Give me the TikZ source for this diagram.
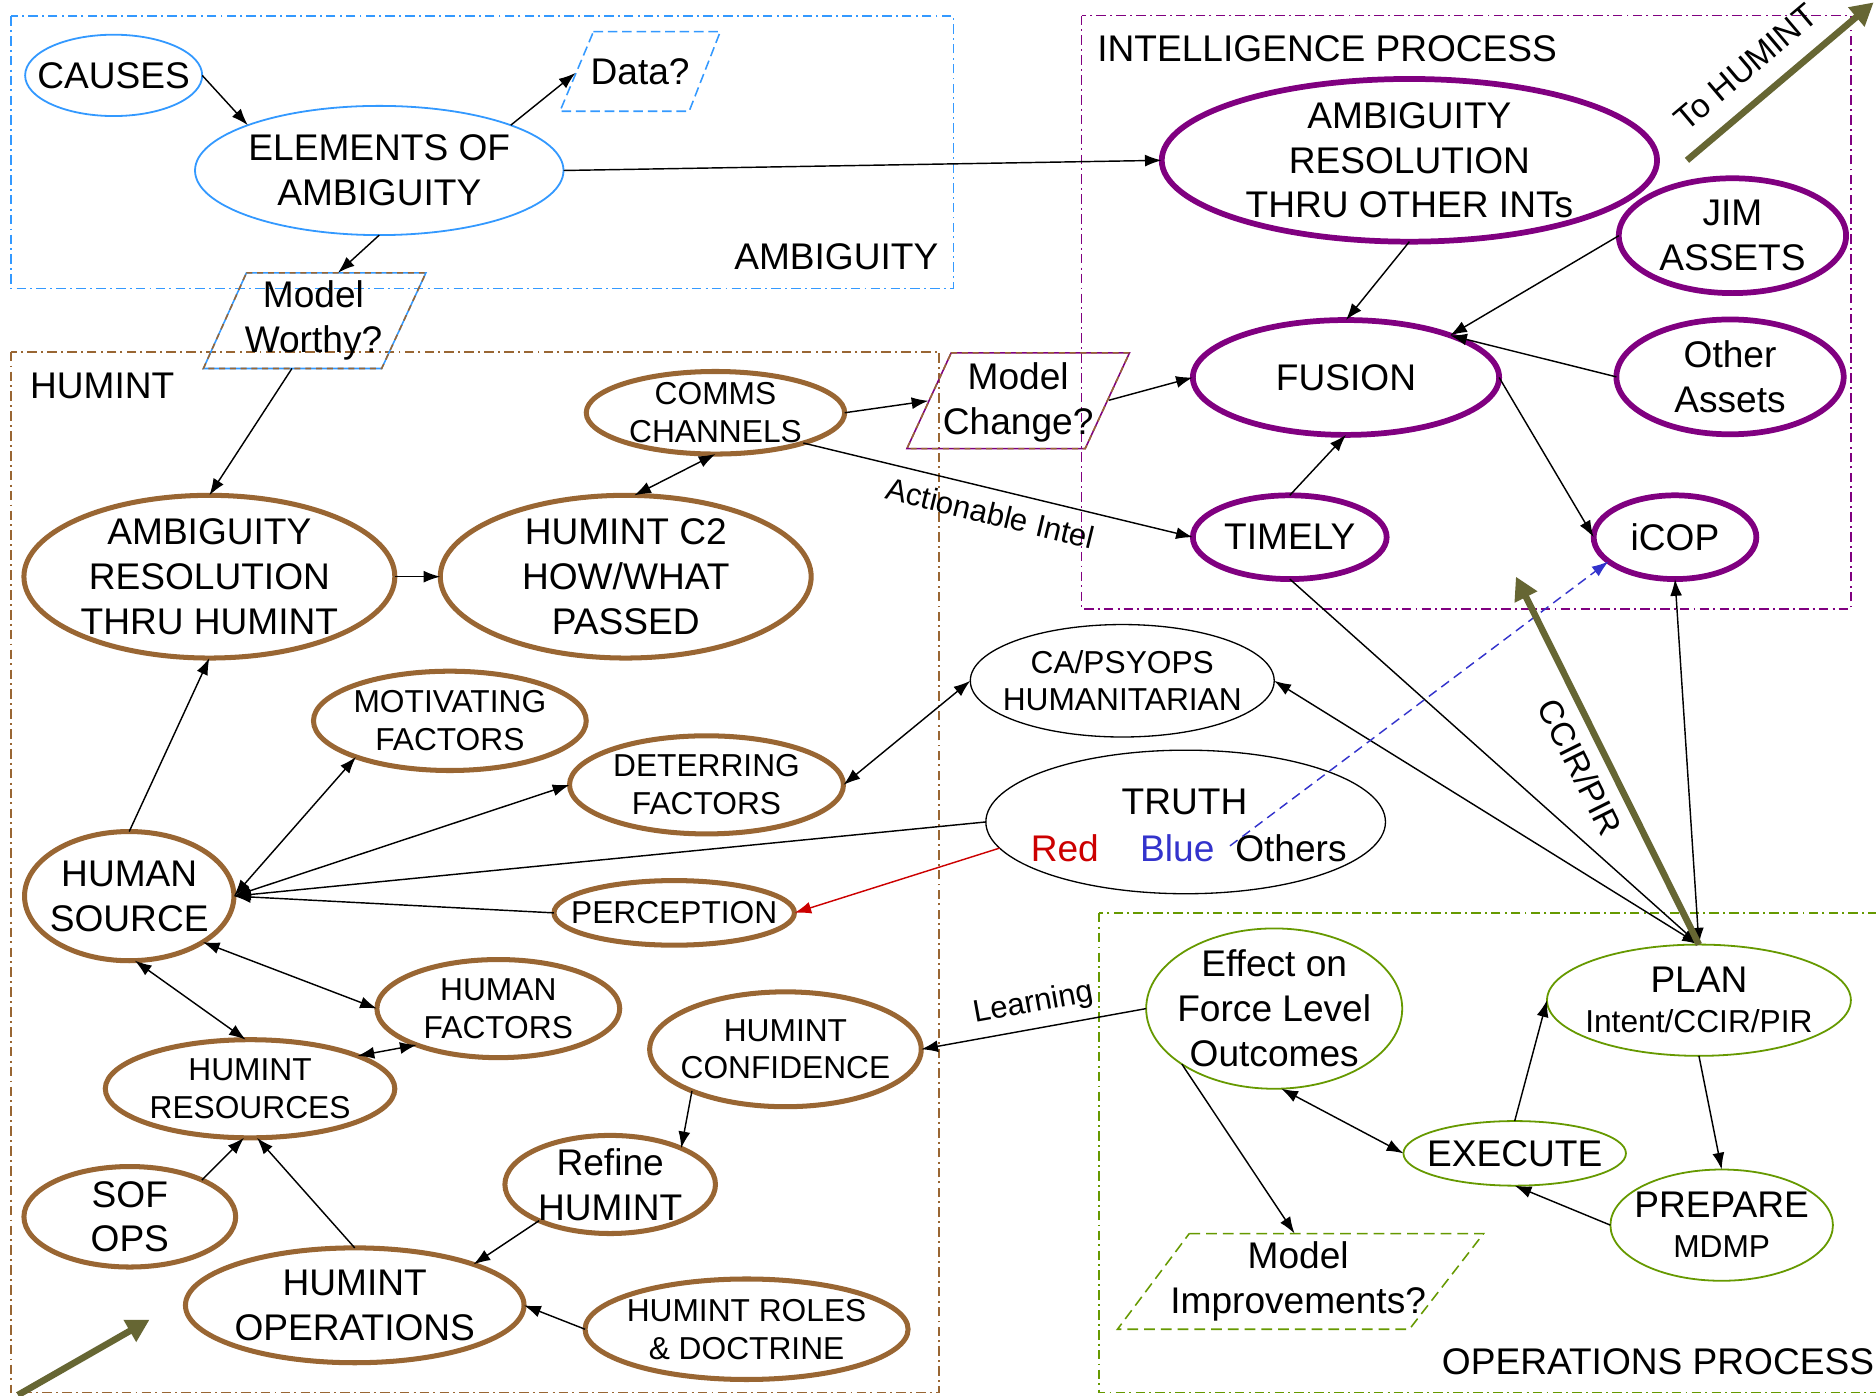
\documentclass[tikz,border=0pt]{standalone}
\usepackage{fontspec}
\setmainfont{Liberation Sans}
\usetikzlibrary{shapes.geometric,arrows.meta}

\definecolor{ambblue}{HTML}{3399FF}
\definecolor{humbrown}{HTML}{996633}
\definecolor{intpurple}{HTML}{800080}
\definecolor{opsgreen}{HTML}{669900}
\definecolor{olivearrow}{HTML}{666633}
\definecolor{truthred}{HTML}{CC0000}
\definecolor{truthblue}{HTML}{3333CC}

\newcommand\bigfont{\fontsize{31}{37.5}\selectfont}
\newcommand\smallfont{\fontsize{26.5}{31.5}\selectfont}
\newcommand\lblfont{\fontsize{26}{31}\selectfont}
\newcommand\arrfont{\fontsize{28}{33}\selectfont}

% oval outline plus its centred caption
% #1 outline style, #2 name, #3 centre, #4 width, #5 height, #6 text style, #7 text
\newcommand\ovalnode[7]{%
  \node[#1, minimum width=#4, minimum height=#5] (#2) at (#3) {};
  \node[#6] (#2-t) at (#2) {#7};}

\tikzset{
  oval/.style={ellipse, inner sep=0pt, outer sep=0pt},
  hum/.style={oval, draw=humbrown, line width=4.2pt},
  intel/.style={oval, draw=intpurple, line width=4.8pt},
  opsov/.style={oval, draw=opsgreen, line width=1.5pt},
  ambov/.style={oval, draw=ambblue, line width=1.5pt},
  plainov/.style={oval, draw=black, line width=1.1pt},
  btxt/.style={inner sep=0pt, align=center, font=\bigfont},
  stxt/.style={inner sep=0pt, align=center, font=\smallfont},
  lbl/.style={inner sep=0pt, font=\lblfont},
  tip/.tip={Latex[length=14pt,width=10pt]},
  conn/.style={line width=1.2pt, -tip},
  rconn/.style={line width=1.2pt, tip-},
  bi/.style={line width=1.2pt, tip-tip},
  frame/.style={line width=1.3pt, dash pattern=on 8pt off 3.5pt on 1.6pt off 3.5pt},
  bigarrow/.style={line width=5.5pt, draw=olivearrow,
    -{Triangle[length=19pt,width=20pt]}},
  rbigarrow/.style={line width=5.5pt, draw=olivearrow,
    {Triangle[length=19pt,width=20pt]}-},
}

\begin{document}
\begin{tikzpicture}[x=1pt, y=-1pt]
\path[use as bounding box, fill=white] (0,0) rectangle (1568,1166);

% ---------- process frames ----------
\draw[frame, ambblue]   (9,13.5) rectangle (797,241);
\draw[frame, humbrown]  (9,294) rectangle (785,1164);
\draw[frame, intpurple] (904,13) rectangle (1547,509);
\draw[frame, opsgreen]  (918.5,763) rectangle (1590,1164);

\node[btxt] (amb-lbl) at (699,215) {AMBIGUITY};
\node[btxt, anchor=west] (int-lbl) at (917,41) {INTELLIGENCE PROCESS};
\node[btxt, anchor=west] (hum-lbl) at (25,322.5) {HUMINT};
\node[btxt, anchor=west] (ops-lbl) at (1205,1138) {OPERATIONS PROCESS};

% ---------- decision parallelograms ----------
\draw[ambblue, line width=1.3pt, dash pattern=on 8pt off 4pt]
  (496,26.5) -- (602,26.5) -- (576,93) -- (468,93) -- cycle;
\node[btxt] (data) at (535,60) {Data?};
\coordinate (data-in) at (481,61);

\draw[ambblue, line width=1.3pt]
  (206,228) -- (356,228) -- (319,308) -- (170,308) -- cycle;
\draw[humbrown, line width=1.3pt, dash pattern=on 5pt off 4pt]
  (206,228) -- (356,228) -- (319,308) -- (170,308) -- cycle;
\node[btxt] (mw) at (262,268) {Model\\Worthy?};
\coordinate (mw-in) at (282.5,228);
\coordinate (mw-out) at (244,308);

\draw[intpurple, line width=1.3pt]
  (795,295) -- (944,295) -- (907,375) -- (758,375) -- cycle;
\draw[humbrown, line width=1.3pt, dash pattern=on 5pt off 4pt]
  (795,295) -- (944,295) -- (907,375) -- (758,375) -- cycle;
\node[btxt] (mc) at (851,336) {Model\\Change?};
\coordinate (mc-in) at (776,335);
\coordinate (mc-out) at (927,334.5);

\draw[opsgreen, line width=1.3pt, dash pattern=on 9pt off 5pt]
  (994,1031) -- (1240,1031) -- (1178,1111) -- (934,1111) -- cycle;
\node[btxt] (mi) at (1085,1071) {Model\\Improvements?};
\coordinate (mi-in) at (1082,1031);

% ---------- ambiguity ----------
\ovalnode{ambov}{causes}{95,63}{148pt}{68pt}{btxt}{CAUSES}
\ovalnode{ambov}{elem}{317,142.5}{308pt}{108pt}{btxt}{ELEMENTS OF\\AMBIGUITY}

% ---------- intelligence process ----------
\ovalnode{intel}{arint}{1178,134}{414pt}{136pt}{btxt}{AMBIGUITY\\RESOLUTION\\THRU OTHER INTs}
\ovalnode{intel}{jim}{1448,197}{190pt}{96pt}{btxt}{JIM\\ASSETS}
\ovalnode{intel}{fusion}{1125,315.5}{256pt}{96pt}{btxt}{FUSION}
\ovalnode{intel}{other}{1446,315}{190pt}{96pt}{btxt}{Other\\Assets}
\ovalnode{intel}{timely}{1078,449}{162pt}{70pt}{btxt}{TIMELY}
\ovalnode{intel}{icop}{1400,449}{136pt}{70pt}{btxt}{iCOP}

% ---------- HUMINT ----------
\ovalnode{hum}{arh}{175,482}{310pt}{136pt}{btxt}{AMBIGUITY\\RESOLUTION\\THRU HUMINT}
\ovalnode{hum}{c2}{523,482}{310pt}{136pt}{btxt}{HUMINT C2\\HOW/WHAT\\PASSED}
\ovalnode{hum}{comms}{598,345}{216pt}{69pt}{stxt}{COMMS\\CHANNELS}
\ovalnode{hum}{mot}{376,602.5}{228pt}{83pt}{stxt}{MOTIVATING\\FACTORS}
\ovalnode{hum}{det}{590.5,656}{229pt}{82pt}{stxt}{DETERRING\\FACTORS}
\ovalnode{hum}{hs}{108,749}{175pt}{108pt}{btxt}{HUMAN\\SOURCE}
\ovalnode{hum}{perc}{563.5,763}{201pt}{54pt}{stxt}{PERCEPTION}
\ovalnode{hum}{hf}{416.5,843}{203pt}{82pt}{stxt}{HUMAN\\FACTORS}
\ovalnode{hum}{res}{209,910}{242pt}{82pt}{stxt}{HUMINT\\RESOURCES}
\ovalnode{hum}{conf}{656.5,877}{227pt}{96pt}{stxt}{HUMINT\\CONFIDENCE}
\ovalnode{hum}{refine}{510,990}{176pt}{82pt}{btxt}{Refine\\HUMINT}
\ovalnode{hum}{sof}{108.5,1017}{177pt}{84pt}{btxt}{SOF\\OPS}
\ovalnode{hum}{hops}{296.5,1091}{283pt}{96pt}{btxt}{HUMINT\\OPERATIONS}
\ovalnode{hum}{roles}{624,1111}{270pt}{84pt}{stxt}{HUMINT ROLES\\\& DOCTRINE}

% ---------- shared outside factors ----------
\ovalnode{plainov}{capsy}{938,569}{254pt}{94pt}{stxt}{CA/PSYOPS\\HUMANITARIAN}
\node[plainov, minimum width=334pt, minimum height=120pt] (truth) at (991,687) {};
\node[btxt] (truth-t) at (990,670) {TRUTH};
\node[btxt, text=truthred] (truth-red) at (890,709) {Red};
\node[btxt, text=truthblue] (truth-blue) at (984,709) {Blue};
\node[btxt] (truth-oth) at (1079,709) {Others};
\coordinate (bluetail) at (1028,707);

% ---------- operations process ----------
\ovalnode{opsov}{eff}{1065,843}{214pt}{134pt}{btxt}{Effect on\\Force Level\\Outcomes}
\ovalnode{opsov}{plan}{1420,836}{254pt}{93pt}{btxt}{PLAN\\[-4pt]{\smallfont Intent/CCIR/PIR}}
\ovalnode{opsov}{exec}{1266,964}{186pt}{54pt}{btxt}{EXECUTE}
\ovalnode{opsov}{prep}{1439,1024}{186pt}{93pt}{btxt}{PREPARE\\[-4pt]{\smallfont MDMP}}

% ---------- connectors ----------
\draw[conn] (causes.east) -- (elem.161);
\draw[conn] (elem.19) -- (data-in);
\draw[conn] (elem.south) -- (mw-in);
\draw[conn] (elem.east) -- (arint.west);
\draw[conn] (mw-out) -- (arh.north);
\draw[conn] (arh.east) -- (c2.west);
\draw[bi] (c2.84) -- (comms.south);
\draw[conn] (comms.east) -- (mc-in);
\draw[conn] (mc-out) -- (fusion.west);
\draw[conn] (comms.-19) -- node[lbl, sloped, below=10pt, pos=0.495] {Actionable Intel} (timely.west);
\draw[conn] (arint.south) -- (fusion.north);
\draw[conn] (jim.west) -- (fusion.22);
\draw[conn] (other.west) -- (fusion.22);
\draw[conn] (timely.north) -- (fusion.south);
\draw[conn] (fusion.east) -- (icop.west);
\draw[conn] (timely.south) -- (plan.north);
\draw[bi] (capsy.east) -- (plan.north);
\draw[bi] (icop.south) -- (plan.north);
\draw[bi] (capsy.west) -- (det.east);
\draw[conn] (truth.west) -- (hs.east);
\draw[conn, truthred] (truth.188) -- (perc.east);
\draw[conn, truthblue, dash pattern=on 8pt off 5pt] (bluetail) -- (icop.200);
\draw[conn] (perc.west) -- (hs.east);
\draw[bi] (hs.east) -- (mot.201);
\draw[bi] (hs.east) -- (det.west);
\draw[conn] (hs.north) -- (arh.south);
\draw[bi] (hs.-32) -- (hf.west);
\draw[bi] (hs.-85) -- (res.95);
\draw[bi] (res.17) -- (hf.204);
\draw[conn] (sof.27) -- (res.-97);
\draw[conn] (hops.north) -- (res.-82);
\draw[conn] (conf.204) -- (refine.27);
\draw[conn] (refine.207) -- (hops.19);
\draw[conn] (roles.west) -- (hops.east);
\draw[rconn] (conf.east) -- node[lbl, sloped, above=8pt, pos=0.52] {Learning} (eff.west);
\draw[conn] (eff.211) -- (mi-in);
\draw[bi] (eff.-85) -- (exec.west);
\draw[conn] (exec.north) -- (plan.west);
\draw[conn] (plan.south) -- (prep.north);
\draw[conn] (prep.west) -- (exec.south);

% ---------- feedback arrows ----------
\coordinate (ccir-tip) at (1267,482);
\draw[rbigarrow] (ccir-tip) -- node[inner sep=0pt, font=\arrfont, sloped, below=10pt, pos=0.485] {CCIR/PIR} (plan.north);
\coordinate (tohum-tail) at (1410,134);
\coordinate (tohum-tip) at (1566,2);
\draw[bigarrow] (tohum-tail) -- node[inner sep=0pt, font=\arrfont, sloped, above=15pt, pos=0.43] {To HUMINT} (tohum-tip);
\coordinate (fromops-tail) at (15,1166);
\coordinate (fromops-tip) at (125,1103);
\draw[bigarrow] (fromops-tail) -- (fromops-tip);
\end{tikzpicture}
\end{document}
